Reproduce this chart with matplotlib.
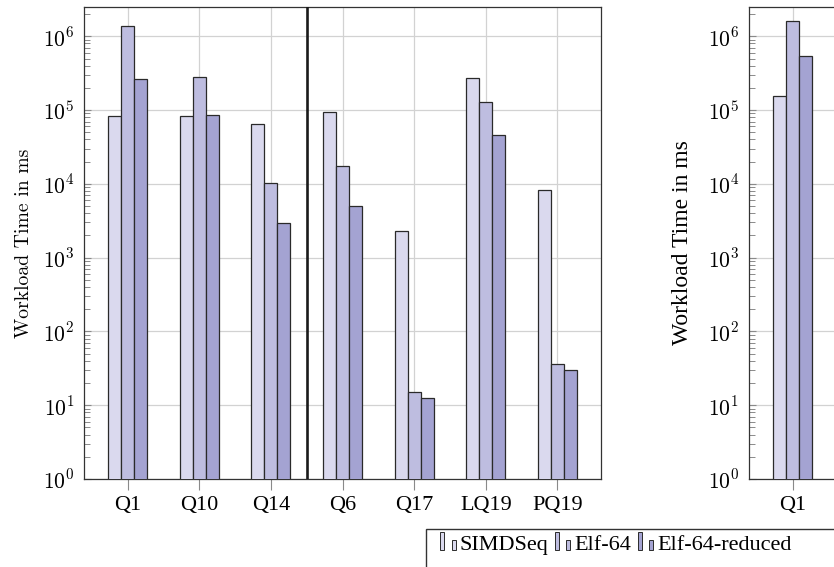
"""Workload time per query, log scale, three compression variants."""

import matplotlib.pyplot as plt
import numpy as np
from matplotlib.container import BarContainer
from matplotlib.legend_handler import HandlerBase
from matplotlib.patches import Rectangle
from matplotlib.ticker import FixedLocator, FuncFormatter, LogLocator, NullFormatter

plt.rcParams["mathtext.fontset"] = "cm"

QUERIES = ["Q1", "Q10", "Q14", "Q6", "Q17", "LQ19", "PQ19"]
SIMDSEQ = [8.2e4, 8.4e4, 6.5e4, 9.3e4, 2.3e3, 2.75e5, 8.2e3]
ELF64 = [1.4e6, 2.85e5, 1.03e4, 1.73e4, 15.3, 1.29e5, 36]
ELF64_RED = [2.65e5, 8.5e4, 2.95e3, 4.95e3, 12.4, 4.6e4, 30]

RIGHT_QUERIES = ["Q1"]
RIGHT_SIMDSEQ = [1.57e5]
RIGHT_ELF64 = [1.62e6]
RIGHT_ELF64_RED = [5.4e5]

SERIES = ["SIMDSeq", "Elf-64", "Elf-64-reduced"]
COLORS = ["#dad9ee", "#bebde0", "#a4a3d2"]
EDGE = "#2a2a2a"
GRID = "#d2d2d2"
TICK = "#8a8a8a"
SERIF = "Liberation Serif"


class BarPairHandler(HandlerBase):
    # pgfplots-style ybar legend glyph: one tall and one short bar
    def create_artists(self, legend, orig_handle, xdescent, ydescent,
                       width, height, fontsize, trans):
        fc = orig_handle.patches[0].get_facecolor()
        x0, y0 = -xdescent, 0.0
        tall = Rectangle((x0, y0), 3.0, 12.7, facecolor=fc,
                         edgecolor=EDGE, lw=0.7, transform=trans)
        short = Rectangle((x0 + 8.3, y0), 3.0, 6.7, facecolor=fc,
                          edgecolor=EDGE, lw=0.7, transform=trans)
        return [tall, short]


def style_axis(ax, labels, label_font, label_size, label_x):
    ax.set_yscale("log")
    ax.set_ylim(1, 2.5e6)
    ax.set_xlim(-0.61, 6.61)
    ax.set_xticks(np.arange(len(labels)))
    ax.set_xticklabels(labels, fontsize=16, family=SERIF)

    ax.yaxis.set_major_locator(FixedLocator([10.0 ** k for k in range(7)]))
    ax.yaxis.set_minor_locator(LogLocator(base=10, subs=np.arange(2, 10)))
    ax.yaxis.set_major_formatter(
        FuncFormatter(lambda v, p: rf"$10^{{{int(round(np.log10(v)))}}}$"))
    ax.yaxis.set_minor_formatter(NullFormatter())
    ax.tick_params(axis="y", which="major", direction="in", length=5,
                   width=0.8, color=TICK, labelsize=15.5, pad=7)
    ax.tick_params(axis="y", which="minor", direction="in", length=4,
                   width=0.7, color=TICK)
    ax.tick_params(axis="x", direction="out", length=8, width=0.8,
                   color=TICK, pad=4)

    ax.grid(axis="both", which="major", color=GRID, lw=0.9, zorder=0)
    ax.set_axisbelow(True)
    for s in ax.spines.values():
        s.set_color("#333333")
        s.set_linewidth(0.9)

    ax.set_ylabel("Workload Time in ms", family=label_font,
                  fontsize=label_size)
    ax.yaxis.set_label_coords(label_x, 0.5)


def draw_bars(ax, groups, width):
    x = np.arange(len(groups[0]))
    for i, (vals, col) in enumerate(zip(groups, COLORS)):
        ax.bar(x + (i - 1) * width, vals, width=width, bottom=0,
               color=col, edgecolor=EDGE, linewidth=0.9,
               label=SERIES[i], zorder=3)


def main():
    fig = plt.figure(figsize=(8.34, 5.67), dpi=100)
    width = 0.182

    ax = fig.add_axes([0.1007, 0.1552, 0.620, 0.8325])
    draw_bars(ax, [SIMDSEQ, ELF64, ELF64_RED], width)
    ax.axvline(2.5, color="#1a1a1a", lw=1.9, zorder=4)
    style_axis(ax, QUERIES, "cmr10", 14.2, -0.098)

    # second panel runs off the right edge of the figure
    ax2 = fig.add_axes([0.898, 0.1552, 0.620, 0.8325])
    draw_bars(ax2, [RIGHT_SIMDSEQ, RIGHT_ELF64, RIGHT_ELF64_RED], width)
    style_axis(ax2, RIGHT_QUERIES, SERIF, 17, -0.108)

    handles, labels = ax.get_legend_handles_labels()
    fig.legend(handles, labels, loc="lower left",
               bbox_to_anchor=(0.5276, 0.022), frameon=False,
               prop={"family": SERIF, "size": 16}, ncol=3,
               handler_map={BarContainer: BarPairHandler()},
               handlelength=0.72, handletextpad=0.15, columnspacing=0.3,
               borderpad=0, borderaxespad=0)
    fig.patches.append(Rectangle((0.5104, -0.1), 0.6, 0.167,
                                 transform=fig.transFigure, fill=False,
                                 edgecolor="#333333", lw=1.0))

    fig.savefig("out.png", dpi=100)


if __name__ == "__main__":
    main()
